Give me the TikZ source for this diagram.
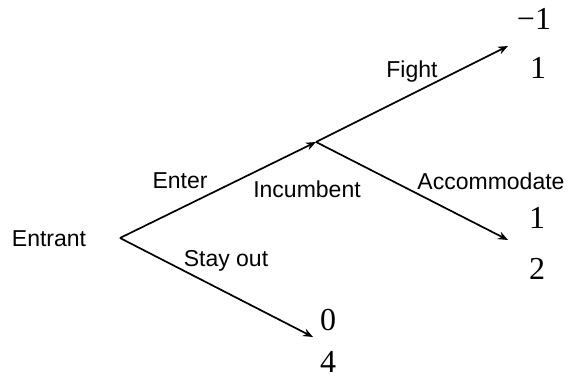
\documentclass[tikz,border=0pt]{standalone}
\usepackage{fontspec}
\setmainfont{Liberation Serif}
\setsansfont{Liberation Sans}
\usepackage{tikz}
\usetikzlibrary{arrows.meta}

\begin{document}
\begin{tikzpicture}[x=1pt, y=-1pt,
    move/.style={line width=1.7pt, -{Stealth[length=10pt, width=8pt]}},
    lbl/.style={font=\sffamily\fontsize{23}{25}\selectfont, inner sep=0pt},
    pay/.style={font=\fontsize{32}{34}\selectfont, inner sep=0pt}]
        \useasboundingbox (0, 0) rectangle (571, 379);
        \coordinate (entrant) at (120, 238);
        \coordinate (inc) at (316, 142);
        \coordinate (fightend) at (508, 46);
        \coordinate (accend) at (508, 240);
        \coordinate (outend) at (313, 337);
        \draw[move] (entrant) -- (inc);
        \draw[move] (inc) -- (fightend);
        \draw[move] (inc) -- (accend);
        \draw[move] (entrant) -- (outend);
        \node[lbl] (entlbl) at (49, 239) {Entrant};
        \node[lbl] (enterlbl) at (180, 181) {Enter};
        \node[lbl] (inclbl) at (307, 189) {Incumbent};
        \node[lbl] (fightlbl) at (412, 72) {Fight};
        \node[lbl] (acclbl) at (491, 181) {Accommodate};
        \node[lbl] (outlbl) at (226, 261) {Stay out};
        \node[pay] (f1) at (534, 19) {−1};
        \node[pay] (f2) at (538, 68) {1};
        \node[pay] (a1) at (537, 218) {1};
        \node[pay] (a2) at (537, 269) {2};
        \node[pay] (s1) at (328, 320) {0};
        \node[pay] (s2) at (328, 362) {4};
      \end{tikzpicture}
\end{document}
